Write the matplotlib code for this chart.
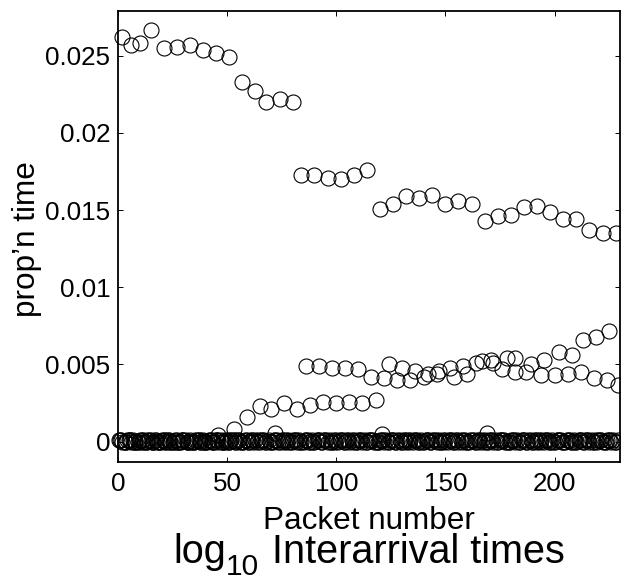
import numpy as np
import matplotlib
matplotlib.use("Agg")
import matplotlib.pyplot as plt

plt.rcParams['font.family'] = ['Liberation Sans', 'DejaVu Sans']

# %% data
# top band (largest share)
top_x = [2, 6, 10, 15, 21, 27, 33, 39, 45, 51, 57, 63, 68, 74, 80,
         84, 90, 96, 102, 108, 114, 120, 126, 132, 138, 144, 150, 156, 162,
         168, 174, 180, 186, 192, 198, 204, 210, 216, 222, 228]
top_y = [0.0262, 0.0257, 0.0258, 0.0267, 0.0255, 0.0256, 0.0257, 0.0254, 0.0252, 0.0249,
         0.0233, 0.0227, 0.0220, 0.0222, 0.0220,
         0.0173, 0.0173, 0.0171, 0.0170, 0.0173, 0.0176,
         0.0151, 0.0154, 0.0159, 0.0158, 0.0160, 0.0154, 0.0156, 0.0154,
         0.0143, 0.0146, 0.0147, 0.0152, 0.0153, 0.0149, 0.0144, 0.0144,
         0.0137, 0.0135, 0.0135]

# second band, starts near 0.005
mid_x = [86, 92, 98, 104, 110, 116, 122, 128, 134, 140, 146, 154, 160, 167,
         172, 176, 182, 187, 194, 200, 206, 212, 218, 224, 229]
mid_y = [0.0049, 0.0049, 0.0048, 0.0048, 0.0047, 0.0042, 0.0041, 0.0040, 0.0040,
         0.0042, 0.0044, 0.0042, 0.0044, 0.0052, 0.0051, 0.0047, 0.0045, 0.0045,
         0.0043, 0.0043, 0.0044, 0.0045, 0.0041, 0.0040, 0.0037]

# third band, rises from zero
rise_x = [46, 53, 59, 65, 70, 76, 82, 88, 94, 100, 106, 112, 118,
          124, 130, 136, 142, 147, 152, 158, 164, 171, 178, 182, 189,
          195, 202, 208, 213, 219, 225]
rise_y = [0.0004, 0.0008, 0.0016, 0.0023, 0.0021, 0.0025, 0.0021, 0.0024, 0.0026,
          0.0025, 0.0026, 0.0025, 0.0027,
          0.0050, 0.0048, 0.0046, 0.0044, 0.0046, 0.0048, 0.0049, 0.0051, 0.0053,
          0.0054, 0.0054, 0.0050, 0.0053, 0.0058, 0.0056, 0.0066, 0.0068, 0.0072]

# near-zero bands (values in 1e-4)
zeroA_x = np.arange(1, 230, 2)
zeroA_y = [1, 0, 1, 1, 0, 1, 0, 1, 1, 0, 1, 1, 0, 1, 0, 1, 1, 0, 1, 1, 0, 1, 1,
           1, 1, 0, 1, 1, 0, 1, 1, 1, 0, 1, 1, 0, 1, 1, 1, 0, 1, 1, 0, 1, 1, 1,
           0, 1, 1, 1, 0, 1, 1, 1, 0, 1, 1, 1, 1, 0, 1, 1, 1, 0, 1, 1, 1, 0, 1,
           1, 1, 0, 1, 1, 1, 0, 1, 1, 1, 1, 0, 1, 1, 1, 0, 1, 1, 1, 1, 0, 1, 1,
           1, 0, 1, 1, 1, 0, 1, 1, 1, 1, 0, 1, 1, 1, 0, 1, 1, 1, 1, 0, 1, 1, 1]
zeroB_x = np.arange(2, 229, 2)
zeroB_y = [0, 1, 0, 0, 1, 0, 1, 0, 0, 1, 0, 0, 1, 0, 1, 0, 0, 1, 0, 0, 1, 0, 0,
           0, 1, 1, 0, 0, 1, 0, 0, 1, 1, 0, 0, 1, 0, 0, 1, 1, 0, 0, 1, 0, 0, 1,
           1, 0, 0, 1, 1, 0, 0, 1, 1, 0, 0, 1, 0, 1, 0, 0, 1, 1, 0, 0, 1, 1, 0,
           0, 1, 1, 0, 0, 1, 1, 0, 0, 1, 0, 1, 0, 0, 1, 1, 0, 0, 1, 0, 1, 0, 0,
           1, 1, 0, 0, 1, 1, 0, 0, 1, 0, 1, 0, 0, 1, 1, 0, 0, 1, 0, 1, 0, 0]
zeroC_x = np.arange(1.5, 229, 2)
zeroC_y = [1, 0, 1, 0, 0, 1, 0, 0, 1, 0, 0, 1, 0, 0, 1, 0, 0, 1, 0, 0, 1, 0, 1,
           0, 0, 1, 0, 1, 0, 0, 1, 0, 1, 0, 0, 1, 0, 1, 0, 0, 1, 0, 1, 0, 0, 1,
           0, 1, 0, 0, 1, 0, 1, 0, 0, 1, 0, 1, 0, 0, 1, 0, 1, 0, 0, 1, 0, 1, 0,
           0, 1, 0, 1, 0, 0, 1, 0, 1, 0, 0, 1, 0, 1, 0, 0, 1, 0, 1, 0, 0, 1, 0,
           1, 0, 0, 1, 0, 1, 0, 0, 1, 0, 1, 0, 0, 1, 0, 1, 0, 0, 1, 0, 1, 0]
zeroD_x = [0.5, 3, 5.5, 8, 11, 13.5, 16, 19, 21.5, 24, 27, 29.5, 32, 35, 37.5,
           40, 43, 45.5, 48, 51, 53.5]
zeroD_y = [1, 0, 1, 0, 0, 1, 0, 0, 1, 0, 0, 1, 0, 0, 1, 0, 0, 1, 0, 0, 1]
bump_x = [72, 121, 169]
bump_y = [0.00055, 0.00052, 0.00054]

yticks = [0, 0.005, 0.01, 0.015, 0.02, 0.025]
ytick_labels = ['0', '0.005', '0.01', '0.015', '0.02', '0.025']
xticks = [0, 50, 100, 150, 200]

# %% plot
fig = plt.figure(figsize=(6.21, 5.81), dpi=100)
ax = fig.add_axes([0.190, 0.2053, 0.8084, 0.7757])

mk = dict(linestyle='none', marker='o', markersize=10.8, markerfacecolor='none',
          markeredgecolor='black', markeredgewidth=0.8, clip_on=False)
for bx, by in [(zeroA_x, zeroA_y), (zeroB_x, zeroB_y), (zeroC_x, zeroC_y), (zeroD_x, zeroD_y)]:
    ax.plot(bx, np.array(by) * 1e-4, **mk)
ax.plot(bump_x, bump_y, **mk)
ax.plot(rise_x, rise_y, **mk)
ax.plot(mid_x, mid_y, **mk)
ax.plot(top_x, top_y, **mk)

ax.set_xlim(0, 230)
ax.set_ylim(-0.0013, 0.0279)
ax.set_xticks(xticks)
ax.set_yticks(yticks)
ax.set_yticklabels(ytick_labels)
ax.tick_params(direction='in', length=3.6, width=0.7, top=True, right=True,
               labelsize=18.7, colors='black')
ax.tick_params(axis='x', pad=7.5)
ax.tick_params(axis='y', pad=5.5)
for sp in ax.spines.values():
    sp.set_linewidth(1.3)

fig.text(0.594, 0.0895, 'Packet number', ha='center', va='baseline', fontsize=22.7)
fig.text(0.044, 0.588, 'prop\u2019n time', ha='center', va='center', rotation=90, fontsize=22.7)

# title under the x label, subscript drawn as its own text
fig.text(173 / 621, 0.031, 'log', ha='left', va='baseline', fontsize=28.5)
fig.text(226 / 621, 0.011, '10', ha='left', va='baseline', fontsize=21.5)
fig.text(272 / 621, 0.031, 'Interarrival times', ha='left', va='baseline', fontsize=28.5)

fig.savefig('out.png', dpi=100)
